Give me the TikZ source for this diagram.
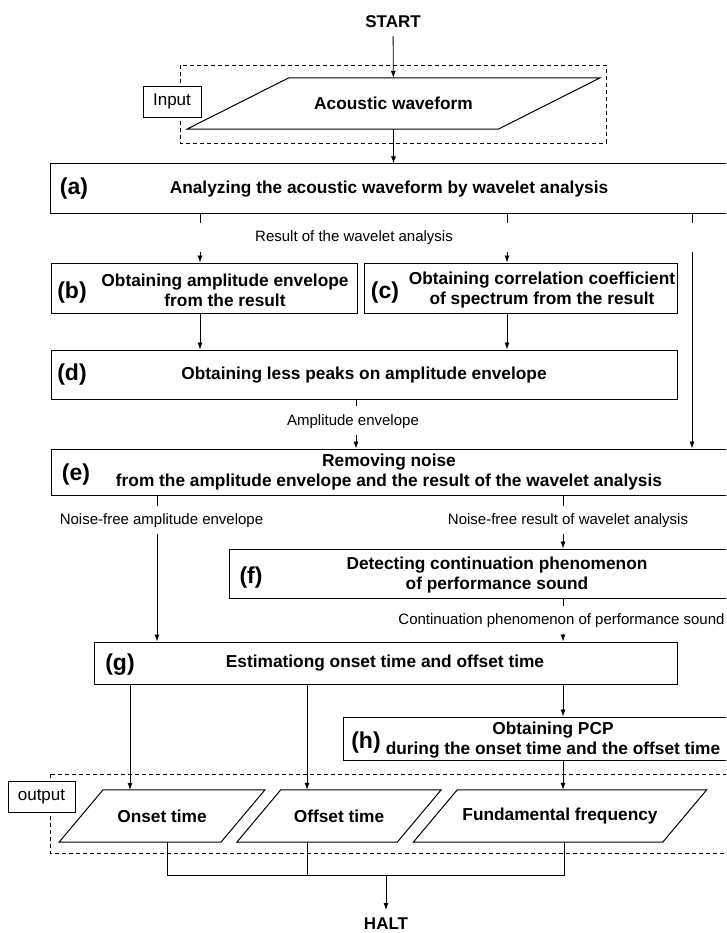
\documentclass[tikz,border=0pt]{standalone}
\usepackage{fontspec}
\setmainfont{Liberation Sans}
\usetikzlibrary{arrows.meta}

\begin{document}
\begin{tikzpicture}[x=1pt, y=-1pt,
  box/.style={draw, line width=1pt, inner sep=0pt},
  io/.style={inner sep=0pt, font=\fontsize{17.3}{20}\selectfont\bfseries,
    append after command={\pgfextra{\draw[line width=1pt]
      ([xshift=#1]\tikzlastnode.north west) -- ([xshift=#1]\tikzlastnode.north east) --
      ([xshift=-#1]\tikzlastnode.south east) -- ([xshift=-#1]\tikzlastnode.south west) -- cycle;}}},
  txt/.style={font=\fontsize{17.3}{20}\selectfont\bfseries, align=center, inner sep=0pt},
  tag/.style={font=\fontsize{23}{26}\selectfont\bfseries, inner sep=0pt},
  note/.style={font=\fontsize{15}{18}\selectfont, inner sep=0pt},
  term/.style={font=\fontsize{17}{20}\selectfont\bfseries, inner sep=8pt},
  side/.style={draw, fill=white, line width=0.8pt, inner sep=0pt, font=\fontsize{17}{20}\selectfont},
  region/.style={draw, line width=0.8pt, dash pattern=on 4pt off 3pt},
  con/.style={draw, line width=0.8pt},
  arr/.style={draw, line width=0.8pt, -{Latex[length=7pt,width=5pt]}}]

  \clip (0,0) rectangle (726,933);

  % input and output regions
  \draw[region] (180,65) rectangle (606,143);
  \draw[region] (50,774) rectangle (740,853);

  \node[term] (start) at (393,22) {START};
  \node[io=51pt, minimum width=311pt, minimum height=51pt] (wave) at (393.5,103.5) {Acoustic waveform};
  \node[side, minimum width=58pt, minimum height=31pt] (input) at (172,101.5) {Input};

  % processing steps
  \node[box, minimum width=690pt, minimum height=50pt] (a) at (395,189) {};
  \node[tag] (a-tag) at (74,189) {(a)};
  \node[txt] (a-txt) at (389,189) {Analyzing the acoustic waveform by wavelet analysis};

  \node[box, minimum width=306pt, minimum height=50pt] (b) at (204,288) {};
  \node[tag] (b-tag) at (72,293) {(b)};
  \node[txt] (b-txt) at (225,290) {Obtaining amplitude envelope\\from the result};

  \node[box, minimum width=313pt, minimum height=50pt] (c) at (520.5,288) {};
  \node[tag] (c-tag) at (385,293) {(c)};
  \node[txt] (c-txt) at (542,290) {Obtaining correlation coefficient\\of spectrum from the result};

  \node[box, minimum width=626pt, minimum height=49pt] (d) at (364,374.5) {};
  \node[tag] (d-tag) at (72,375) {(d)};
  \node[txt] (d-txt) at (364,375) {Obtaining less peaks on amplitude envelope};

  \node[box, minimum width=689pt, minimum height=46pt] (e) at (395.5,472) {};
  \node[tag] (e-tag) at (76,475) {(e)};
  \node[txt] (e-txt) at (389,472) {Removing noise\\from the amplitude envelope and the result of the wavelet analysis};

  \node[box, minimum width=511pt, minimum height=49pt] (f) at (484.5,573.5) {};
  \node[tag] (f-tag) at (251,578) {(f)};
  \node[txt] (f-txt) at (497,575) {Detecting continuation phenomenon\\of performance sound};

  \node[box, minimum width=583pt, minimum height=42pt] (g) at (385.5,663) {};
  \node[tag] (g-tag) at (120,665) {(g)};
  \node[txt] (g-txt) at (385,663) {Estimationg onset time and offset time};

  \node[box, minimum width=397pt, minimum height=43pt] (h) at (541.5,738.5) {};
  \node[tag] (h-tag) at (366,743) {(h)};
  \node[txt] (h-txt) at (553,740) {Obtaining PCP\\during the onset time and the offset time};

  % data between the steps
  \node[note] (res) at (354,238) {Result of the wavelet analysis};
  \node[note] (amp) at (353,422) {Amplitude envelope};
  \node[note] (nfamp) at (161.5,521) {Noise-free amplitude envelope};
  \node[note] (nfres) at (568,521) {Noise-free result of wavelet analysis};
  \node[note] (cont) at (561.5,621) {Continuation phenomenon of performance sound};

  % outputs
  \node[io=22pt, minimum width=161.5pt, minimum height=52pt] (onset) at (162,816) {Onset time};
  \node[io=22pt, minimum width=160pt, minimum height=52pt] (offset) at (339,816) {Offset time};
  \node[io=22pt, minimum width=249pt, minimum height=52pt] (fund) at (560,816) {Fundamental frequency};
  \node[side, minimum width=67pt, minimum height=31pt] (output) at (41.5,796.5) {output};
  \node[term] (halt) at (386,924) {HALT};

  \coordinate (a1) at (200,223); \coordinate (a2) at (200,252);
  \coordinate (a3) at (507,223); \coordinate (a4) at (507,252);
  \coordinate (a5) at (692,223); \coordinate (a6) at (692,252);
  \coordinate (d1) at (356,406); \coordinate (d2) at (356,435);
  \coordinate (e1) at (157,506); \coordinate (e2) at (157,534);
  \coordinate (e3) at (563,506); \coordinate (e4) at (563,534);
  \coordinate (f1) at (563,606); \coordinate (f2) at (563,634);
  \coordinate (g1) at (130,700); \coordinate (g2) at (307,700);
  \coordinate (o1) at (167,875); \coordinate (o2) at (307,875);
  \coordinate (o3) at (564,875); \coordinate (j) at (386,875);

  \draw[arr] (start) -- (wave);
  \draw[arr] (wave) -- (wave |- a.north);

  \draw[con] (a.south -| a1) -- (a1);
  \draw[con] (a.south -| a3) -- (a3);
  \draw[con] (a.south -| a5) -- (a5);
  \draw[arr] (a2) -- (b.north -| a2);
  \draw[arr] (a4) -- (c.north -| a4);
  \draw[arr] (a6) -- (e.north -| a6);

  \draw[arr] (b.south -| a2) -- (d.north -| a2);
  \draw[arr] (c.south -| a4) -- (d.north -| a4);

  \draw[con] (d.south -| d1) -- (d1);
  \draw[arr] (d2) -- (e.north -| d2);

  \draw[con] (e.south -| e1) -- (e1);
  \draw[arr] (e2) -- (g.north -| e2);
  \draw[con] (e.south -| e3) -- (e3);
  \draw[arr] (e4) -- (f.north -| e4);

  \draw[con] (f.south -| f1) -- (f1);
  \draw[arr] (f2) -- (g.north -| f2);

  \draw[arr] (g.south -| g1) -- (onset.north -| g1);
  \draw[arr] (g.south -| g2) -- (offset.north -| g2);
  \draw[arr] (g.south -| f2) -- (h.north -| f2);
  \draw[arr] (h.south -| f2) -- (fund.north -| f2);

  \draw[con] (onset.south -| o1) -- (o1) -- (o3) -- (fund.south -| o3);
  \draw[con] (offset.south -| o2) -- (o2);
  \draw[arr] (j) -- (halt);
\end{tikzpicture}
\end{document}
